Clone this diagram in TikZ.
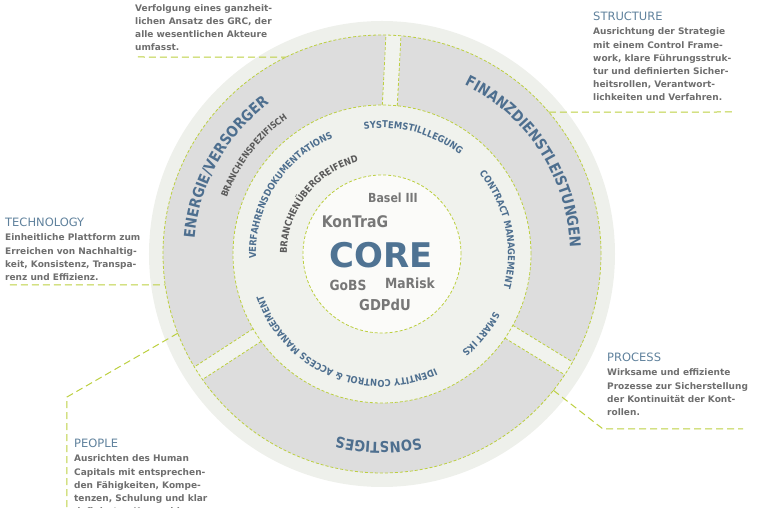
\documentclass[tikz,border=0pt]{standalone}
\usepackage{fontspec}
\usetikzlibrary{decorations.text}

\newfontfamily\narrowsans[FakeStretch=0.88]{DejaVu Sans}
\newfontfamily\widesans{DejaVu Sans}

\definecolor{halofill}{HTML}{EEF0EB}
\definecolor{bandgray}{HTML}{DDDDDD}
\definecolor{gapfill}{HTML}{F1F3EE}
\definecolor{ringfill}{HTML}{F0F2ED}
\definecolor{corefill}{HTML}{FBFBF9}
\definecolor{limegreen}{HTML}{BCCF3F}
\definecolor{bodygray}{HTML}{6E6E6E}
\definecolor{titleblue}{HTML}{5F819C}
\definecolor{ringblue}{HTML}{4E6F8F}
\definecolor{ringgray}{HTML}{5A5A5A}
\definecolor{coregray}{HTML}{777777}
\definecolor{coreblue}{HTML}{4F7393}

\newcommand{\blockfont}{\widesans\bfseries\fontsize{9bp}{13.2bp}\selectfont}
\newcommand{\blocktitle}{\mdseries\fontsize{11.5bp}{13.2bp}\selectfont\color{titleblue}}
\newcommand{\ringbig}{\narrowsans\bfseries\fontsize{15bp}{17bp}\selectfont}
\newcommand{\ringsmall}{\narrowsans\bfseries\fontsize{9.5bp}{11bp}\selectfont}
\newcommand{\ringtiny}{\narrowsans\bfseries\fontsize{9bp}{10bp}\selectfont}

% #1 colour, #2 font, #3 baseline radius, #4 centre angle, #5 text
\newcommand{\ringlabel}[5]{%
  \path[decorate, decoration={text along path, text align=center,
      text color=#1, text={|#2|#5}}]
    ({#4+85}:#3) arc[start angle={#4+85}, end angle={#4-85}, radius=#3];}

\begin{document}
\begin{tikzpicture}[x=1bp, y=1bp,
    ringline/.style={draw=limegreen, line width=0.8bp, dash pattern=on 3bp off 2bp},
    calloutline/.style={draw=limegreen, line width=1bp, dash pattern=on 7bp off 4bp},
    infotext/.style={anchor=north west, align=left, inner sep=0pt, font=\blockfont, text=bodygray},
    coreword/.style={inner sep=0pt, text=coregray, font=\narrowsans\bfseries\fontsize{#1}{#1}\selectfont},
  ]
  \useasboundingbox (-382,-254) rectangle (380,254);
  \coordinate (C) at (0,0);

  % rings
  \fill[halofill] (C) circle (233);
  \fill[bandgray] (C) circle (219);
  \begin{scope}
    \clip (C) circle (219);
    \foreach \a in {87,-31.5,213}
      \fill[gapfill, rotate=\a] (140,-7.5) rectangle (230,7.5);
  \end{scope}
  \fill[ringfill] (C) circle (149);
  \fill[corefill] (C) circle (79);
  \foreach \r in {219,149,79}
    \draw[ringline] (C) circle (\r);
  \foreach \a in {87,-31.5,213}
    \draw[ringline, rotate=\a] (148.8,-7.5) -- (218.9,-7.5) (148.8,7.5) -- (218.9,7.5);

  % ring labels
  \ringlabel{ringblue}{\ringbig}{188}{151}{ENERGIE/VERSORGER}
  \ringlabel{ringblue}{\ringbig}{188}{33}{FINANZDIENSTLEISTUNGEN}
  \ringlabel{ringblue}{\ringbig}{188}{-91}{SONSTIGES}
  \ringlabel{ringgray}{\ringtiny}{165}{142.5}{BRANCHENSPEZIFISCH}
  \ringlabel{ringblue}{\ringsmall}{126}{147.5}{VERFAHRENSDOKUMENTATIONS}
  \ringlabel{ringgray}{\ringsmall}{95}{142}{BRANCHENÜBERGREIFEND}
  \ringlabel{ringblue}{\ringsmall}{126}{75}{SYSTEMSTILLLEGUNG}
  \ringlabel{ringblue}{\ringsmall}{126}{12}{CONTRACT MANAGEMENT}
  \ringlabel{ringblue}{\ringsmall}{126}{-39}{SMART IKS}
  \ringlabel{ringblue}{\ringsmall}{126}{-113}{IDENTITY CONTROL {\&} ACCESS MANAGEMENT}

  % core
  \node[inner sep=0pt, text=coreblue, font=\widesans\bfseries\fontsize{34bp}{34bp}\selectfont] (core) at (-1,-1) {CORE};
  \node[coreword=12.5bp] (basel) at (11,56) {Basel III};
  \node[coreword=16bp] (kontrag) at (-27,32) {KonTraG};
  \node[coreword=14bp] (gobs) at (-34,-31) {GoBS};
  \node[coreword=14bp] (marisk) at (28,-29) {MaRisk};
  \node[coreword=15bp] (gdpdu) at (3,-51) {GDPdU};

  % callouts
  \coordinate (grc-ring) at (116:219);
  \coordinate (grc-end) at (-244,197);
  \coordinate (st-ring) at (40.4:219);
  \coordinate (st-end) at (350,142);
  \coordinate (te-ring) at (188.1:219);
  \coordinate (te-end) at (-372,-31);
  \coordinate (pr-ring) at (-38.5:219);
  \coordinate (pr-bend) at (221,-175);
  \coordinate (pr-end) at (361,-175);
  \coordinate (pe-ring) at (201.2:219);
  \coordinate (pe-bend) at (-315,-143);
  \coordinate (pe-end) at (-315,-256);

  \draw[calloutline] (grc-end) -- (grc-ring);
  \draw[calloutline] (st-ring) -- (st-end);
  \draw[calloutline] (te-end) -- (te-ring);
  \draw[calloutline] (pr-ring) -- (pr-bend) -- (pr-end);
  \draw[calloutline] (pe-ring) -- (pe-bend) -- (pe-end);

  \node[infotext] (grc) at (-247,250) {Verfolgung eines ganzheit-\\lichen Ansatz des GRC, der\\alle wesentlichen Akteure\\umfasst.};
  \node[infotext] (structure) at (211,242) {{\blocktitle STRUCTURE}\\[1bp]Ausrichtung der Strategie\\mit einem Control Frame-\\work, klare Führungsstruk-\\tur und definierten Sicher-\\heitsrollen, Verantwort-\\lichkeiten und Verfahren.};
  \node[infotext] (technology) at (-377,36) {{\blocktitle TECHNOLOGY}\\[1bp]Einheitliche Plattform zum\\Erreichen von Nachhaltig-\\keit, Konsistenz, Transpa-\\renz und Effizienz.};
  \node[infotext] (process) at (225,-99) {{\blocktitle PROCESS}\\[1bp]Wirksame und effiziente\\Prozesse zur Sicherstellung\\der Kontinuität der Kont-\\rollen.};
  \node[infotext] (people) at (-308,-185) {{\blocktitle PEOPLE}\\[1bp]Ausrichten des Human\\Capitals mit entsprechen-\\den Fähigkeiten, Kompe-\\tenzen, Schulung und klar\\definierten Kennzahlen};
\end{tikzpicture}
\end{document}
